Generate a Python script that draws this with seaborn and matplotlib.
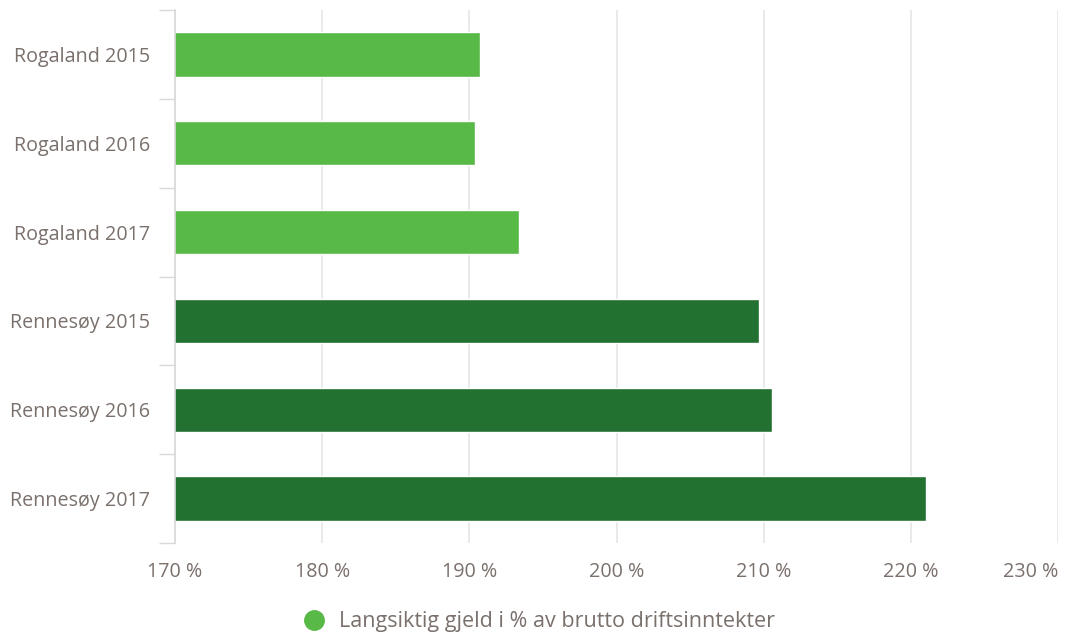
import matplotlib
matplotlib.use("Agg")
import matplotlib.pyplot as plt
import seaborn as sns
from matplotlib.lines import Line2D
from matplotlib.ticker import FixedLocator

categories = ["Rogaland 2015", "Rogaland 2016", "Rogaland 2017",
              "Rennesøy 2015", "Rennesøy 2016", "Rennesøy 2017"]
values = [190.7, 190.4, 193.4, 209.7, 210.6, 221.05]
bar_colors = ["#58b947", "#58b947", "#58b947", "#227130", "#227130", "#227130"]
x_ticks = [170, 180, 190, 200, 210, 220, 230]
x_tick_labels = ["170 %", "180 %", "190 %", "200 %", "210 %", "220 %", "230 %"]
legend_label = "Langsiktig gjeld i % av brutto driftsinntekter"

sns.set_theme(style="white")
plt.rcParams['font.family'] = ['Open Sans', 'DejaVu Sans']
text_color = "#7a706c"

fig = plt.figure(figsize=(10.74, 6.39), dpi=100)
ax = fig.add_axes([175/1074, 1-543/639, (1058-175)/1074, (543-10)/639])

sns.barplot(x=values, y=categories, hue=categories, palette=bar_colors,
            legend=False, width=0.5, ax=ax, orient="h", saturation=1)

ax.set_xlim(170, 230)
ax.set_ylim(5.5, -0.5)
ax.set_xticks(x_ticks)
ax.set_xticklabels(x_tick_labels)
ax.get_xticklabels()[-1].set_horizontalalignment("right")
ax.xaxis.grid(True, color="#e6e6e6", linewidth=1.2)
ax.set_axisbelow(True)
ax.yaxis.grid(False)
ax.set_xlabel("")
ax.set_ylabel("")

for s in ["top", "right", "bottom"]:
    ax.spines[s].set_visible(False)
ax.spines["left"].set_color("#d9d9d9")
ax.spines["left"].set_linewidth(1.2)

ax.yaxis.set_minor_locator(FixedLocator([i - 0.5 for i in range(len(categories) + 1)]))
ax.tick_params(axis="y", which="major", length=0, pad=18, labelsize=14.2, labelcolor=text_color)
ax.tick_params(axis="y", which="minor", length=11.5, width=1, color="#d9d9d9", left=True)
ax.tick_params(axis="x", which="major", length=0, pad=14, labelsize=14.2, labelcolor=text_color)

handle = Line2D([0], [0], marker="o", linestyle="none", markersize=14,
                markerfacecolor="#58b947", markeredgecolor="#58b947")
fig.legend([handle], [legend_label], loc="center", bbox_to_anchor=(0.497, 1-622/639),
           frameon=False, fontsize=15.5, labelcolor=text_color, handletextpad=0.2,
           borderaxespad=0)

fig.savefig("out.png", dpi=100)
